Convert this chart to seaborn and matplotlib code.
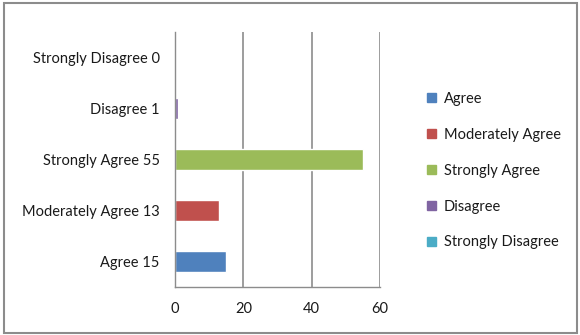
import matplotlib
matplotlib.use("Agg")
import matplotlib.pyplot as plt
import seaborn as sns
import pandas as pd
from matplotlib.patches import Rectangle

categories = ["Strongly Disagree", "Disagree", "Strongly Agree", "Moderately Agree", "Agree"]
values = [0, 1, 55, 13, 15]
legend_order = ["Agree", "Moderately Agree", "Strongly Agree", "Disagree", "Strongly Disagree"]
colors = {"Agree": "#4F81BD", "Moderately Agree": "#C0504D", "Strongly Agree": "#9BBB59",
          "Disagree": "#8064A2", "Strongly Disagree": "#4BACC6"}
x_ticks = [0, 20, 40, 60]

sns.set_style("white")
plt.rcParams["font.family"] = ["Lato", "DejaVu Sans"]

df = pd.DataFrame({"category": categories, "value": values})

fig = plt.figure(figsize=(5.8, 3.35), dpi=100)
ax = fig.add_axes([175/580, 1 - 287/335, (380-175)/580, (287-32)/335])

sns.barplot(data=df, x="value", y="category", hue="category", order=categories,
            hue_order=legend_order, palette=colors, dodge=False, width=0.4,
            orient="h", ax=ax, legend=False, saturation=1)

ax.set_xlim(0, 60)
ax.set_ylim(4.5, -0.5)
ax.set_xticks(x_ticks)
ax.set_xticklabels([str(t) for t in x_ticks])
ax.set_yticks(range(len(categories)))
ax.set_yticklabels([f"{c} {v}" for c, v in zip(categories, values)])
ax.set_yticks([i - 0.5 for i in range(len(categories) + 1)], minor=True)
ax.tick_params(axis="y", which="major", length=0, pad=11, labelsize=10.5, labelcolor="#1a1a1a")
ax.tick_params(axis="y", which="minor", length=4, color="#8c8c8c", width=1)
ax.tick_params(axis="x", which="major", length=4, color="#8c8c8c", width=1, pad=7,
               labelsize=10.5, labelcolor="#1a1a1a")
ax.set_xlabel("")
ax.set_ylabel("")
ax.xaxis.grid(True, color="#8c8c8c", linewidth=1.2)
ax.set_axisbelow(True)
for s in ["top", "right"]:
    ax.spines[s].set_visible(False)
for s in ["left", "bottom"]:
    ax.spines[s].set_color("#8c8c8c")
    ax.spines[s].set_linewidth(1)

handles = [Rectangle((0, 0), 1, 1, color=colors[c]) for c in legend_order]
fig.legend(handles, legend_order, loc="upper left", bbox_to_anchor=(427/580, 1 - 92/335),
           frameon=False, handlelength=0.6, handleheight=0.6, handletextpad=0.55,
           labelspacing=1.5, fontsize=10.5, labelcolor="#1a1a1a", borderaxespad=0, borderpad=0)

fig.patches.append(Rectangle((4/580, 2/335), 573/580, 330/335, transform=fig.transFigure,
                             fill=False, edgecolor="#8c8c8c", linewidth=1.5))

fig.savefig("out.png", dpi=100)
